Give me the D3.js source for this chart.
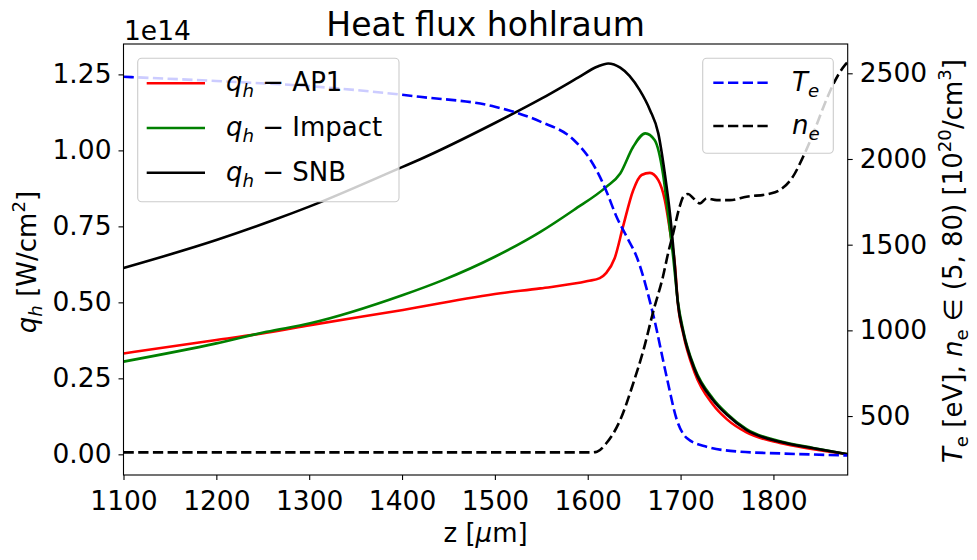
<!DOCTYPE html>
<html>
<head>
<meta charset="utf-8">
<script src="https://cdn.jsdelivr.net/npm/d3@7"></script>
<style>
  body { margin: 0; background: #fff; }
  svg { display: block; font-family: "DejaVu Sans", sans-serif; }
</style>
</head>
<body>
<div id="chart"></div>
<script>
const width = 977;
const height = 560;

// [z (um), q_h (1e14 W/cm^2)]
const qAP1 = [[1100,0.332],[1200,0.376],[1254,0.400],[1301,0.425],[1401,0.475],[1506,0.530],
  [1549,0.546],[1600,0.570],[1613,0.580],[1620,0.597],[1629,0.645],[1638,0.749],[1649,0.869],
  [1658,0.919],[1667,0.926],[1676,0.902],[1683,0.837],[1689,0.727],[1694,0.620],[1697,0.500],
  [1703,0.395],[1715,0.270],[1735,0.163],[1750,0.115],[1771,0.072],[1807,0.037],[1843,0.017],[1880,0.0]];

const qImpact = [[1100,0.305],[1200,0.365],[1254,0.403],[1301,0.431],[1401,0.524],[1444,0.573],
  [1500,0.650],[1549,0.732],[1585,0.804],[1620,0.880],[1635,0.924],[1649,1.012],[1662,1.056],
  [1672,1.034],[1681,0.924],[1687,0.780],[1692,0.650],[1697,0.505],[1703,0.405],[1715,0.285],
  [1735,0.183],[1750,0.134],[1771,0.083],[1807,0.043],[1843,0.021],[1880,0.0]];

const qSNB = [[1100,0.613],[1200,0.705],[1261,0.770],[1300,0.815],[1400,0.945],[1419,0.970],
  [1500,1.090],[1550,1.170],[1590,1.240],[1610,1.275],[1622,1.286],[1635,1.272],[1645,1.245],
  [1656,1.198],[1667,1.133],[1676,1.056],[1683,0.924],[1689,0.780],[1693,0.650],[1697,0.500],
  [1703,0.400],[1715,0.280],[1735,0.178],[1750,0.130],[1771,0.080],[1807,0.041],[1843,0.020],[1880,0.0]];

// [z (um), value on right axis]
const tE = [[1100,2480],[1200,2455],[1300,2425],[1419,2363],[1500,2305],[1549,2218],[1585,2111],
  [1603,1994],[1613,1897],[1621,1800],[1631,1663],[1642,1546],[1653,1425],[1671,1080],[1685,729],
  [1696,477],[1707,370],[1728,321],[1764,292],[1807,282],[1880,270]];

const nE = [[1100,288],[1605,288],[1610,292],[1620,341],[1635,477],[1649,691],[1660,885],
  [1671,1119],[1681,1313],[1687,1460],[1692,1566],[1699,1722],[1703,1780],[1708,1796],[1714,1770],
  [1721,1741],[1728,1770],[1739,1760],[1753,1760],[1771,1780],[1795,1796],[1807,1819],[1821,1897],
  [1832,2013],[1843,2150],[1854,2305],[1865,2442],[1877,2548],[1880,2565]];

const xTicks = [1100,1200,1300,1400,1500,1600,1700,1800];
const leftTicks = [0,0.25,0.5,0.75,1.0,1.25];
const rightTicks = [500,1000,1500,2000,2500];

const x = d3.scaleLinear([1100, 1880], [123.5, 847.7]);
const yL = d3.scaleLinear([-0.068, 1.35], [475, 44]);
const yR = d3.scaleLinear([156, 2671], [475, 44]);

const fs = 26;
const tickFs = 26.5;
const svg = d3.select("#chart").append("svg")
  .attr("width", width).attr("height", height);

svg.append("defs").append("clipPath").attr("id", "plot")
  .append("rect").attr("x", 123.5).attr("y", 44).attr("width", 724.2).attr("height", 431);

const lineL = d3.line().x(d => x(d[0])).y(d => yL(d[1])).curve(d3.curveMonotoneX);
const lineR = d3.line().x(d => x(d[0])).y(d => yR(d[1])).curve(d3.curveMonotoneX);

const plot = svg.append("g").attr("clip-path", "url(#plot)");
const lw = 2.6;
const dash = "10.3,4.4";
[[qAP1, "#ff0000"], [qImpact, "#008000"], [qSNB, "#000000"]].forEach(([d, c]) => {
  plot.append("path").attr("d", lineL(d)).attr("fill", "none")
    .attr("stroke", c).attr("stroke-width", lw);
});
[[tE, "#0000ff"], [nE, "#000000"]].forEach(([d, c]) => {
  plot.append("path").attr("d", lineR(d)).attr("fill", "none")
    .attr("stroke", c).attr("stroke-width", lw).attr("stroke-dasharray", dash);
});

// axes
const axB = svg.append("g").attr("transform", "translate(0,475)")
  .call(d3.axisBottom(x).tickValues(xTicks).tickSize(5).tickPadding(6).tickFormat(d3.format("d")));
const axL = svg.append("g").attr("transform", "translate(123.5,0)")
  .call(d3.axisLeft(yL).tickValues(leftTicks).tickSize(5).tickPadding(7).tickFormat(d3.format(".2f")));
const axR = svg.append("g").attr("transform", "translate(847.7,0)")
  .call(d3.axisRight(yR).tickValues(rightTicks).tickSize(5).tickPadding(7).tickFormat(d3.format("d")));
[axB, axL, axR].forEach(a => {
  a.select(".domain").remove();
  a.selectAll("line").attr("stroke", "#000").attr("stroke-width", 1.1);
  a.selectAll("text").attr("font-size", tickFs).attr("font-family", "DejaVu Sans").attr("fill", "#000");
});
axB.selectAll("text").attr("dy", "0.9em");

svg.append("rect").attr("x", 123.5).attr("y", 44).attr("width", 724.2).attr("height", 431)
  .attr("fill", "none").attr("stroke", "#000").attr("stroke-width", 1.1);

// labels
svg.append("text").attr("x", 485.6).attr("y", 36).attr("text-anchor", "middle")
  .attr("font-size", 33).text("Heat flux hohlraum");
svg.append("text").attr("x", 124).attr("y", 40).attr("font-size", tickFs).text("1e14");
svg.append("text").attr("x", 485.6).attr("y", 542).attr("text-anchor", "middle")
  .attr("font-size", fs)
  .call(t => {
    t.append("tspan").text("z [");
    t.append("tspan").attr("font-style", "italic").text("μ");
    t.append("tspan").text("m]");
  });

svg.append("text").attr("transform", "translate(36,262) rotate(-90)")
  .attr("text-anchor", "middle").attr("font-size", fs)
  .call(t => {
    t.append("tspan").attr("font-style", "italic").text("q");
    t.append("tspan").attr("font-style", "italic").attr("font-size", fs * 0.7).attr("dy", 6).text("h");
    t.append("tspan").attr("dy", -6).text(" [W/cm");
    t.append("tspan").attr("font-size", fs * 0.7).attr("dy", -11).text("2");
    t.append("tspan").attr("dy", 11).text("]");
  });

svg.append("text").attr("transform", "translate(962,261) rotate(-90)")
  .attr("text-anchor", "middle").attr("font-size", fs)
  .call(t => {
    t.append("tspan").attr("font-style", "italic").text("T");
    t.append("tspan").attr("font-size", fs * 0.7).attr("dy", 6).text("e");
    t.append("tspan").attr("dy", -6).text(" [eV], ");
    t.append("tspan").attr("font-style", "italic").text("n");
    t.append("tspan").attr("font-size", fs * 0.7).attr("dy", 6).text("e");
    t.append("tspan").attr("dy", -6).text(" ∈ (5, 80) [10");
    t.append("tspan").attr("font-size", fs * 0.7).attr("dy", -11).text("20");
    t.append("tspan").attr("dy", 11).text("/cm");
    t.append("tspan").attr("font-size", fs * 0.7).attr("dy", -11).text("3");
    t.append("tspan").attr("dy", 11).text("]");
  });

// legends
const qNames = ["AP1", "Impact", "SNB"];
const qColors = ["#ff0000", "#008000", "#000000"];
const rNames = ["T", "n"];
const rColors = ["#0000ff", "#000000"];

const leg1 = svg.append("g");
leg1.append("rect").attr("x", 137.7).attr("y", 58.3).attr("width", 261.3).attr("height", 143.4)
  .attr("rx", 4).attr("fill", "#fff").attr("fill-opacity", 0.8).attr("stroke", "#cccccc").attr("stroke-width", 1.1);
qNames.forEach((n, i) => {
  const cy = 83.3 + i * 44.7;
  leg1.append("line").attr("x1", 146.7).attr("x2", 205).attr("y1", cy).attr("y2", cy)
    .attr("stroke", qColors[i]).attr("stroke-width", lw);
  leg1.append("text").attr("x", 226).attr("y", cy + 8).attr("font-size", fs)
    .call(t => {
      t.append("tspan").attr("font-style", "italic").text("q");
      t.append("tspan").attr("font-style", "italic").attr("font-size", fs * 0.7).attr("dy", 6).text("h");
      t.append("tspan").attr("dy", -6).text(" − " + n);
    });
});

const leg2 = svg.append("g");
leg2.append("rect").attr("x", 702.7).attr("y", 58.3).attr("width", 130.6).attr("height", 95)
  .attr("rx", 4).attr("fill", "#fff").attr("fill-opacity", 0.8).attr("stroke", "#cccccc").attr("stroke-width", 1.1);
rNames.forEach((n, i) => {
  const cy = 82.7 + i * 43.3;
  leg2.append("line").attr("x1", 713.3).attr("x2", 768.3).attr("y1", cy).attr("y2", cy)
    .attr("stroke", rColors[i]).attr("stroke-width", lw).attr("stroke-dasharray", dash);
  leg2.append("text").attr("x", 792).attr("y", cy + 8).attr("font-size", fs)
    .call(t => {
      t.append("tspan").attr("font-style", "italic").text(n);
      t.append("tspan").attr("font-style", "italic").attr("font-size", fs * 0.7).attr("dy", 6).text("e");
    });
});
</script>
</body>
</html>
